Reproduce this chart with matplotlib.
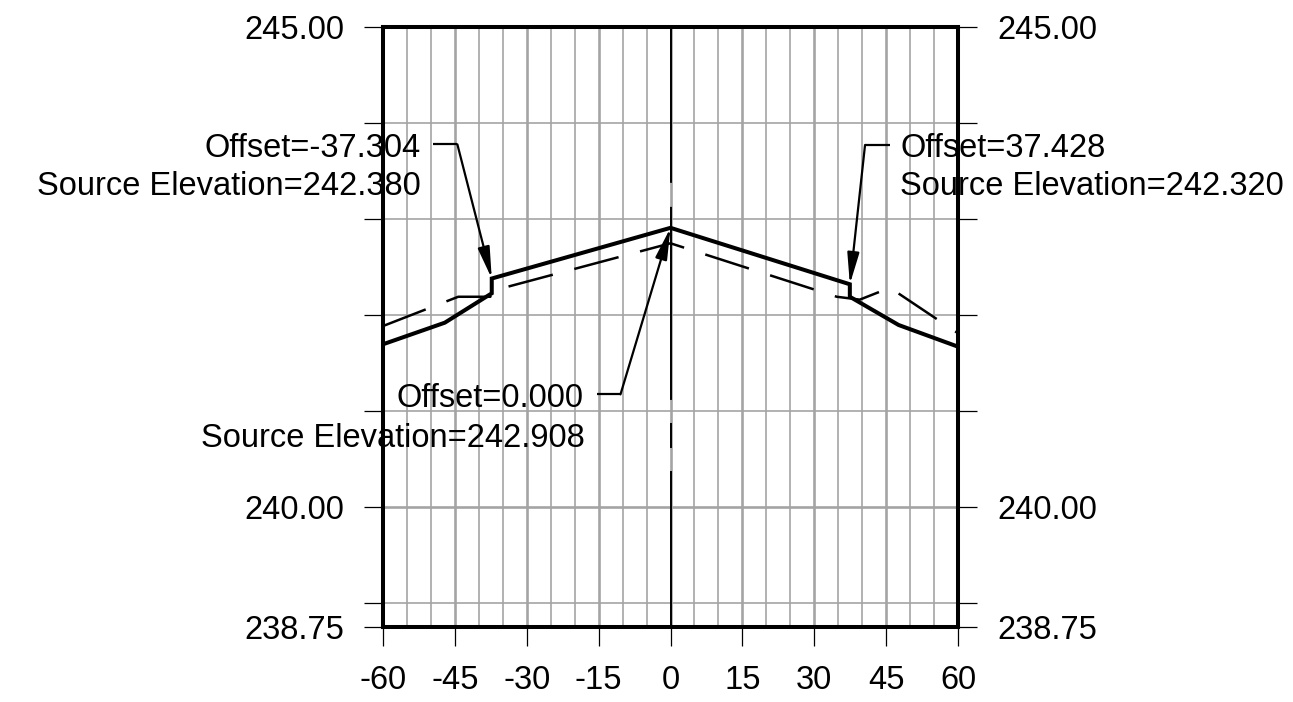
import numpy as np
import matplotlib
matplotlib.use("Agg")
import matplotlib.pyplot as plt

plt.rcParams['font.family'] = ['Liberation Sans', 'DejaVu Sans']
plt.rcParams['axes.unicode_minus'] = False
plt.rcParams['lines.scale_dashes'] = False

# ---------------- data ----------------
design_offset = [-60.0, -47.1, -37.304, -37.304, 0.0, 37.428, 37.428, 47.6, 60.0]
design_elev = [241.695, 241.92, 242.226, 242.380, 242.908, 242.320, 242.19, 241.896, 241.67]

exist_offset = [-60.0, -44.3, -37.6, -37.3, 0.0, 34.7, 39.5, 45.8, 60.0]
exist_elev = [241.885, 242.19, 242.19, 242.25, 242.747, 242.19, 242.16, 242.284, 241.81]

x_ticks = [-60, -45, -30, -15, 0, 15, 30, 45, 60]
x_tick_labels = ['-60', '-45', '-30', '-15', '0', '15', '30', '45', '60']
y_ticks = [238.75, 239, 240, 241, 242, 243, 244, 245]
y_tick_labels = ['238.75', '', '240.00', '', '', '', '', '245.00']

ann_offsets = [-37.304, 37.428, 0.0]
ann_elevs = [242.380, 242.320, 242.908]
ann_line1 = ['Offset=-37.304', 'Offset=37.428', 'Offset=0.000']
ann_line2 = ['Source Elevation=242.380', 'Source Elevation=242.320', 'Source Elevation=242.908']

# ---------------- layout (pixel offsets from arrow tip, y up) ----------------
ann_layout = [
    dict(knee=(-34.4, 134.2), hstart=(-58.4, 134.2), ha='right', t1=(-71, 121.8), t2=(-71, 83.5)),
    dict(knee=(15.2, 139.3), hstart=(40.2, 139.3), ha='left', t1=(50.2, 127.6), t2=(50.2, 89.3)),
    dict(knee=(-50.0, -166.5), hstart=(-73.4, -166.5), ha='right', t1=(-86.7, -178.9), t2=(-85.7, -218.9)),
]

W, H, DPI = 1293, 702, 100
fig = plt.figure(figsize=(W / DPI, H / DPI), dpi=DPI)
ax = fig.add_axes([383 / W, 75 / H, 575 / W, 600 / H])
ax.set_xlim(-60, 60)
ax.set_ylim(238.75, 245)

grid_col = '#a4a4a4'
for v in np.arange(-60, 61, 5):
    ax.axvline(v, color=grid_col, lw=1.9 if v % 15 == 0 else 1.2, zorder=1)
for h in np.arange(239, 245, 1):
    ax.axhline(h, color=grid_col, lw=1.9 if h % 5 == 0 else 1.2, zorder=1)

# center line with gaps
cl = ax.axvline(0, color='black', lw=1.4, zorder=2)
cl.set_linestyle((0, (112.3, 16.6, 18.0, 16.6, 139.0, 17.3, 140.0, 30.0)))

ax.plot(exist_offset, exist_elev, color='black', lw=1.8, zorder=3,
        linestyle=(0, (33, 16)), solid_joinstyle='miter')
ax.plot(design_offset, design_elev, color='black', lw=2.9, zorder=4,
        solid_joinstyle='miter')

for s in ax.spines.values():
    s.set_linewidth(2.9)
    s.set_zorder(6)

ax.set_xticks(x_ticks)
ax.set_xticklabels(x_tick_labels)
ax.set_yticks(y_ticks)
ax.set_yticklabels(y_tick_labels)
ax.tick_params(axis='x', direction='out', length=13.5, width=0.9, pad=14.0,
               labelsize=23.5, bottom=True, top=False)
ax.tick_params(axis='y', direction='out', length=13.5, width=0.9, pad=14.5,
               labelsize=23.5, left=True, right=True, labelleft=True, labelright=True)

fig.canvas.draw()
td = ax.transData
inv = td.inverted()


def off(pt, d):
    X, Y = td.transform(pt)
    return inv.transform((X + d[0], Y + d[1]))


for ox, oy, l1, l2, lay in zip(ann_offsets, ann_elevs, ann_line1, ann_line2, ann_layout):
    tip = (ox, oy)
    knee = off(tip, lay['knee'])
    hs = off(tip, lay['hstart'])
    ax.plot([hs[0], knee[0]], [hs[1], knee[1]], color='black', lw=1.6,
            zorder=5, clip_on=False, solid_capstyle='butt')
    ax.annotate('', xy=tip, xytext=knee, xycoords='data', textcoords='data',
                arrowprops=dict(arrowstyle='-|>,head_length=1.9,head_width=0.36',
                                mutation_scale=10, color='black', lw=1.6,
                                shrinkA=0, shrinkB=0),
                zorder=5, annotation_clip=False)
    for txt, key in ((l1, 't1'), (l2, 't2')):
        dx, dy = lay[key]
        ax.annotate(txt, xy=tip, xytext=(dx * 0.72, dy * 0.72),
                    textcoords='offset points', ha=lay['ha'], va='baseline',
                    fontsize=23.5, color='black', zorder=2,
                    annotation_clip=False)

fig.savefig('out.png', dpi=DPI)
